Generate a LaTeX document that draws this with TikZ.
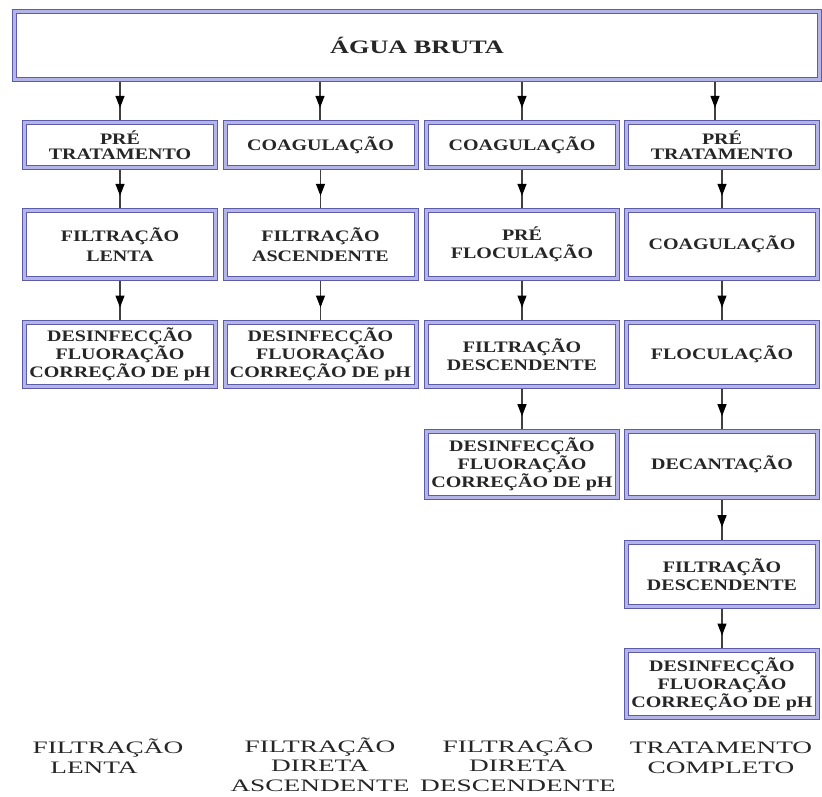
\documentclass[tikz,border=0pt]{standalone}
\usepackage{fontspec}
\usetikzlibrary{arrows.meta,decorations.markings}
\newfontfamily\boxf[FakeStretch=1.25]{Liberation Serif}
\newfontfamily\topf[FakeStretch=1.38]{Liberation Serif}
\newfontfamily\botf[FakeStretch=1.56]{Liberation Serif}
\definecolor{boxline}{HTML}{5C5CA8}
\definecolor{band}{HTML}{B4B4E8}
\definecolor{ink}{HTML}{262626}
\definecolor{wire}{HTML}{404040}
\tikzset{
  dbox/.style={draw=boxline, line width=1pt, double=band, double distance=3pt,
    fill=white, inner sep=0pt, outer sep=2.5pt, minimum width=191pt,
    align=center, text=ink, font=\boxf\bfseries\fontsize{16}{18}\selectfont},
  tight/.style={font=\boxf\bfseries\fontsize{16}{15}\selectfont},
  loose/.style={font=\boxf\bfseries\fontsize{16}{20}\selectfont},
  arr/.style={draw=wire, line width=1.2pt, postaction={decorate},
    decoration={markings, mark=at position 0.68 with {\arrow[black]{Triangle[width=9pt,length=12pt]}}}},
  botlabel/.style={inner sep=0pt, align=center, text=ink, anchor=base,
    font=\botf\fontsize{17.5}{19.5}\selectfont}
}
\begin{document}
\begin{tikzpicture}[x=1pt,y=-1pt]
\useasboundingbox (0,0) rectangle (822,797);
\fill[white] (0,0) rectangle (822,797);
% top box
\node[dbox, minimum width=805pt, minimum height=68pt, font=\topf\bfseries\fontsize{19}{20}\selectfont] (top) at (417,45.5) {ÁGUA BRUTA};
% column 1
\node[dbox, tight, minimum height=45pt] (a1) at (120,145) {PRÉ\\TRATAMENTO};
\node[dbox, loose, minimum height=68pt] (a2) at (120,244.5) {FILTRAÇÃO\\LENTA};
\node[dbox, minimum height=64pt] (a3) at (120,354.5) {DESINFECÇÃO\\FLUORAÇÃO\\CORREÇÃO DE pH};
% column 2
\node[dbox, minimum height=45pt] (b1) at (320.5,145) {COAGULAÇÃO};
\node[dbox, loose, minimum height=68pt] (b2) at (320.5,244.5) {FILTRAÇÃO\\ASCENDENTE};
\node[dbox, minimum height=64pt] (b3) at (320.5,354.5) {DESINFECÇÃO\\FLUORAÇÃO\\CORREÇÃO DE pH};
% column 3
\node[dbox, minimum height=45pt] (c1) at (522,145) {COAGULAÇÃO};
\node[dbox, minimum height=68pt] (c2) at (522,244.5) {PRÉ\\FLOCULAÇÃO};
\node[dbox, minimum height=64pt] (c3) at (522,354.5) {FILTRAÇÃO\\DESCENDENTE};
\node[dbox, minimum height=66pt] (c4) at (522,464.5) {DESINFECÇÃO\\FLUORAÇÃO\\CORREÇÃO DE pH};
% column 4
\node[dbox, tight, minimum height=45pt] (d1) at (722,145) {PRÉ\\TRATAMENTO};
\node[dbox, minimum height=68pt] (d2) at (722,244.5) {COAGULAÇÃO};
\node[dbox, minimum height=64pt] (d3) at (722,354.5) {FLOCULAÇÃO};
\node[dbox, minimum height=66pt] (d4) at (722,464.5) {DECANTAÇÃO};
\node[dbox, minimum height=64pt] (d5) at (722,574.5) {FILTRAÇÃO\\DESCENDENTE};
\node[dbox, minimum height=67pt] (d6) at (722,684) {DESINFECÇÃO\\FLUORAÇÃO\\CORREÇÃO DE pH};
% connectors from the top box
\coordinate (t1) at (120,0);
\coordinate (t2) at (320,0);
\coordinate (t3) at (522,0);
\coordinate (t4) at (715,0);
\draw[arr] (top.south -| t1) -- (a1.north -| t1);
\draw[arr] (top.south -| t2) -- (b1.north -| t2);
\draw[arr] (top.south -| t3) -- (c1.north -| t3);
\draw[arr] (top.south -| t4) -- (d1.north -| t4);
% connectors within columns
\draw[arr] (a1) -- (a2);
\draw[arr] (a2) -- (a3);
\draw[arr] (b1) -- (b2);
\draw[arr] (b2) -- (b3);
\draw[arr] (c1) -- (c2);
\draw[arr] (c2) -- (c3);
\draw[arr] (c3) -- (c4);
\draw[arr] (d1) -- (d2);
\draw[arr] (d2) -- (d3);
\draw[arr] (d3) -- (d4);
\draw[arr] (d4) -- (d5);
\draw[arr] (d5) -- (d6);
% bottom labels (anchor base = baseline of the last line)
\node[botlabel] (l1) at (108,773) {FILTRAÇÃO\\\hspace*{-28pt}LENTA};
\node[botlabel] (l2) at (320,791) {FILTRAÇÃO\\DIRETA\\ASCENDENTE};
\node[botlabel] (l3) at (518,791) {FILTRAÇÃO\\DIRETA\\DESCENDENTE};
\node[botlabel] (l4) at (721,773) {TRATAMENTO\\COMPLETO};
\end{tikzpicture}
\end{document}
